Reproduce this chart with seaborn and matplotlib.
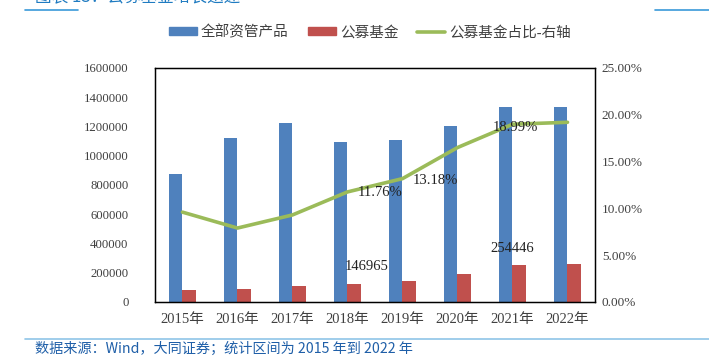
import seaborn as sns
import matplotlib.pyplot as plt
import pandas as pd
from matplotlib.patches import Patch
from matplotlib.lines import Line2D

years = ["2015年", "2016年", "2017年", "2018年", "2019年", "2020年", "2021年", "2022年"]
all_assets = [875000, 1121000, 1224000, 1094000, 1108000, 1203000, 1333000, 1333000]
public_funds = [84000, 87000, 112000, 126000, 146965, 192000, 254446, 258000]
share = [9.6, 7.9, 9.3, 11.76, 13.18, 16.5, 18.99, 19.2]

blue = "#4F81BD"
red = "#C0504D"
green = "#9BBB59"

sns.set_style("white")
plt.rcParams["font.family"] = ["Liberation Serif", "Noto Sans CJK SC", "DejaVu Sans"]

df = pd.DataFrame({"year": years * 2,
                   "value": all_assets + public_funds,
                   "series": ["全部资管产品"] * 8 + ["公募基金"] * 8})

fig = plt.figure(figsize=(7.09, 3.56), dpi=100)
ax = fig.add_axes([0.2186, 0.1517, 0.6206, 0.6573])
sns.barplot(data=df, x="year", y="value", hue="series", palette=[blue, red],
            width=0.5, gap=0, linewidth=0, ax=ax, legend=False, saturation=1)
ax.set_ylim(0, 1600000)
ax.set_xlim(-0.5, 7.5)
ax.set_yticks(range(0, 1600001, 200000))
ax.set_yticklabels([str(v) for v in range(0, 1600001, 200000)])
ax.set_xlabel("")
ax.set_ylabel("")
ax.tick_params(axis="y", labelsize=9.2, colors="#404040", length=0, pad=19)
ax.tick_params(axis="x", labelsize=10.5, colors="#404040", length=0, pad=8)
for s in ax.spines.values():
    s.set_color("black")
    s.set_linewidth(1)

ax2 = ax.twinx()
sns.lineplot(x=list(range(len(years))), y=share, color=green, linewidth=2.6, ax=ax2)
ax2.set_ylim(0, 25)
ax2.set_yticks(range(0, 26, 5))
ax2.set_yticklabels([f"{v}.00%" for v in range(0, 26, 5)])
ax2.tick_params(labelsize=9.5, colors="#404040", length=0, pad=5)
for s in ax2.spines.values():
    s.set_color("black")

# data labels
ax.text(3.35, public_funds[4] + 95000, "146965", ha="center", va="center", fontsize=10.5, color="#222222")
ax.text(6.0, public_funds[6] + 110000, "254446", ha="center", va="center", fontsize=10.5, color="#222222")
ax2.text(3.18, share[3] - 0.1, "11.76%", ha="left", va="center", fontsize=10.5, color="#222222")
ax2.text(4.18, share[4] - 0.2, "13.18%", ha="left", va="center", fontsize=10.5, color="#222222")
ax2.text(6.05, share[6] - 0.4, "18.99%", ha="center", va="center", fontsize=10.5, color="#222222")

# legend
handles = [Patch(color=blue), Patch(color=red), Line2D([], [], color=green, linewidth=2.6)]
fig.legend(handles, ["全部资管产品", "公募基金", "公募基金占比-右轴"], loc="center",
           bbox_to_anchor=(0.522, 0.91), ncol=3, frameon=False, fontsize=10.5,
           handlelength=1.9, handleheight=0.4, handletextpad=0.3, columnspacing=1.3,
           labelcolor="#404040")

# header / footer decoration
fig.text(0.05, 1.01, "图表 13：公募基金增长迅速", color="#1F7BC1", fontsize=12,
         family=["Noto Sans CJK SC"], va="center")
fig.add_artist(Line2D([25 / 709, 78 / 709], [1 - 10 / 356] * 2, color="#3A9AD9", linewidth=1.2))
fig.add_artist(Line2D([655 / 709, 1.0], [1 - 10 / 356] * 2, color="#3A9AD9", linewidth=1.2))
fig.add_artist(Line2D([25 / 709, 1.0], [1 - 339 / 356] * 2, color="#8FC5E8", linewidth=1.2))
fig.text(0.05, 1 - 349 / 356, "数据来源：Wind，大同证券；统计区间为 2015 年到 2022 年",
         color="#1F5FA8", fontsize=10.2, style="italic", va="center",
         family=["Noto Sans CJK SC"])

fig.savefig("out.png", dpi=100)
